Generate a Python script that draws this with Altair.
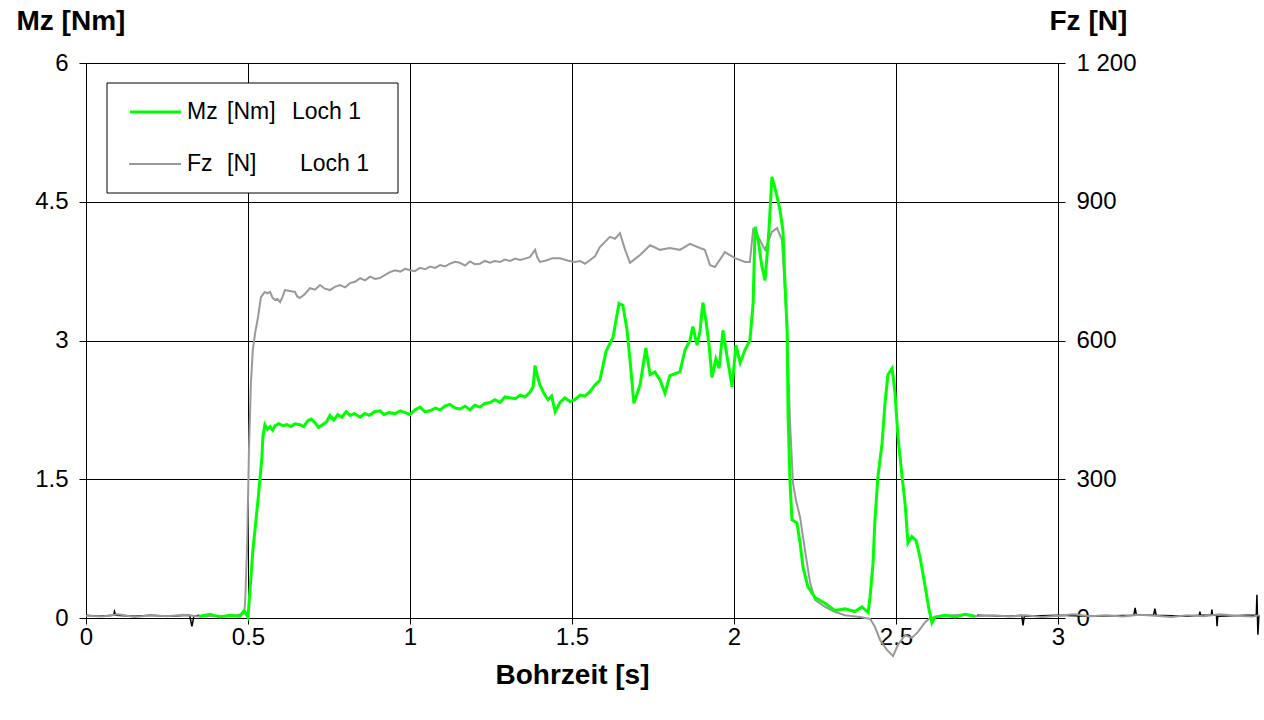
import altair as alt
import pandas as pd

# ---------------- data ----------------
mz_t = [0.352, 0.383, 0.414, 0.444, 0.475, 0.488, 0.500, 0.515, 0.531, 0.543, 0.546,
        0.552, 0.560, 0.568, 0.576, 0.584, 0.595, 0.607, 0.620, 0.633, 0.645, 0.660,
        0.672, 0.684, 0.695, 0.707, 0.718, 0.730, 0.742, 0.753, 0.765, 0.777, 0.790,
        0.803, 0.815, 0.828, 0.846, 0.860, 0.875, 0.890, 0.907, 0.920, 0.935, 0.954,
        0.970, 0.985, 1.000, 1.015, 1.031, 1.046, 1.062, 1.078, 1.093, 1.108, 1.123,
        1.139, 1.154, 1.170, 1.185, 1.200, 1.216, 1.231, 1.247, 1.262, 1.278, 1.293,
        1.309, 1.325, 1.340, 1.355, 1.370, 1.380, 1.386, 1.393, 1.401, 1.413, 1.426,
        1.437, 1.448, 1.463, 1.478, 1.494, 1.509, 1.525, 1.540, 1.556, 1.571, 1.586,
        1.605, 1.627, 1.645, 1.657, 1.670, 1.679,
        1.691, 1.710, 1.728, 1.741, 1.756, 1.772, 1.787, 1.802, 1.833, 1.849, 1.864, 1.873,
        1.886, 1.895, 1.904, 1.914, 1.923, 1.932, 1.944, 1.954, 1.966, 1.978, 1.994, 2.006,
        2.019, 2.034, 2.049, 2.059, 2.065, 2.074, 2.086, 2.096, 2.108, 2.117, 2.130, 2.142,
        2.151, 2.157, 2.164, 2.167, 2.173, 2.179, 2.194, 2.204, 2.213, 2.228, 2.250, 2.281,
        2.312, 2.343, 2.373, 2.395, 2.414, 2.420, 2.429, 2.435, 2.444, 2.457, 2.466, 2.475,
        2.488, 2.497, 2.506, 2.519, 2.528, 2.537, 2.549, 2.562, 2.574, 2.590, 2.602, 2.611,
        2.620, 2.651, 2.682, 2.713, 2.744]
mz_v = [0.02, 0.04, 0.01, 0.03, 0.02, 0.08, 0.01, 0.73, 1.28, 1.74, 1.96,
        2.09, 2.04, 2.07, 2.03, 2.08, 2.10, 2.08, 2.09, 2.07, 2.10, 2.09,
        2.07, 2.13, 2.15, 2.11, 2.06, 2.09, 2.12, 2.19, 2.14, 2.20, 2.17,
        2.23, 2.19, 2.21, 2.17, 2.21, 2.19, 2.23, 2.24, 2.20, 2.22, 2.21,
        2.24, 2.22, 2.20, 2.25, 2.28, 2.23, 2.24, 2.27, 2.25, 2.29, 2.31,
        2.27, 2.26, 2.29, 2.25, 2.30, 2.28, 2.32, 2.33, 2.36, 2.33, 2.39,
        2.38, 2.37, 2.41, 2.39, 2.44, 2.50, 2.73, 2.62, 2.52, 2.43, 2.36,
        2.40, 2.23, 2.33, 2.38, 2.34, 2.36, 2.41, 2.40, 2.45, 2.52, 2.57,
        2.88, 3.04, 3.40, 3.38, 3.11, 2.79,
        2.32, 2.52, 2.92, 2.63, 2.66, 2.57, 2.43, 2.62, 2.66, 2.90, 3.00, 3.15,
        2.95, 3.10, 3.41, 3.20, 2.95, 2.60, 2.80, 2.70, 3.11, 2.84, 2.50, 2.95,
        2.76, 2.90, 3.00, 3.40, 4.23, 4.10, 3.80, 3.65, 4.20, 4.77, 4.60, 4.41,
        4.19, 3.65, 3.11, 2.17, 1.46, 1.06, 1.03, 0.81, 0.55, 0.34, 0.22, 0.16,
        0.08, 0.10, 0.07, 0.12, 0.06, 0.23, 0.59, 1.06, 1.52, 1.89, 2.32, 2.63,
        2.70, 2.43, 1.96, 1.52, 1.24, 0.81, 0.88, 0.84, 0.66, 0.34, 0.09, -0.05,
        0.01, 0.03, 0.01, 0.04, 0.02]

fz_t = [0.000, 0.050, 0.100, 0.150, 0.200, 0.250, 0.300, 0.350, 0.400, 0.450, 0.488,
        0.491, 0.497, 0.503, 0.509, 0.515, 0.522, 0.531, 0.540,
        0.552, 0.560, 0.568, 0.576, 0.583, 0.591, 0.599, 0.607, 0.614, 0.630, 0.645,
        0.652, 0.660, 0.675, 0.691, 0.707, 0.722, 0.737, 0.753, 0.768, 0.784, 0.800,
        0.815, 0.830, 0.846, 0.861, 0.877, 0.892, 0.907, 0.923, 0.938, 0.954, 0.970,
        0.985, 1.000, 1.015, 1.031, 1.046, 1.062, 1.078, 1.093, 1.108, 1.123, 1.139,
        1.154, 1.170, 1.185, 1.200, 1.216, 1.231, 1.247, 1.262, 1.278, 1.293, 1.309,
        1.325, 1.340, 1.355, 1.370, 1.380, 1.386, 1.393, 1.401, 1.420, 1.440, 1.463,
        1.486, 1.509, 1.525, 1.540, 1.556, 1.571,
        1.586, 1.617, 1.633, 1.648, 1.664, 1.679, 1.710,
        1.741, 1.772, 1.802, 1.833, 1.864, 1.895, 1.910, 1.926, 1.941, 1.972, 2.003,
        2.034, 2.049, 2.059, 2.080, 2.096, 2.117, 2.133, 2.148, 2.157, 2.164, 2.173,
        2.182, 2.191, 2.204, 2.219, 2.235, 2.250, 2.281, 2.312, 2.343, 2.389, 2.420,
        2.435, 2.451, 2.472, 2.491, 2.506, 2.528, 2.549, 2.568, 2.590, 2.605,
        2.650, 2.700, 2.750, 2.800, 2.850, 2.900, 2.950, 3.000, 3.050, 3.100, 3.150,
        3.200, 3.250, 3.300, 3.350, 3.400, 3.450, 3.500, 3.550, 3.600, 3.620]
fz_v = [5, 3, 8, 2, 6, 4, 7, 3, 5, 4, 10,
        32, 147, 363, 508, 580, 616, 651, 694,
        705, 702, 705, 692, 688, 690, 683, 695, 709, 707, 705,
        695, 692, 700, 713, 710, 720, 712, 709, 716, 720, 715,
        724, 727, 735, 730, 738, 733, 735, 742, 748, 752, 749,
        755, 752, 750, 757, 754, 760, 757, 763, 760, 766, 770,
        768, 762, 771, 765, 766, 772, 768, 772, 770, 775, 772,
        777, 774, 777, 780, 790, 796, 780, 770, 773, 778, 778,
        773, 770, 772, 766, 774, 782,
        802, 824, 820, 832, 796, 768, 785,
        806, 796, 800, 796, 809, 800, 796, 763, 759, 791, 778,
        770, 770, 839, 817, 796, 835, 843, 817, 709, 616, 422,
        292, 255, 218, 147, 76, 39, 24, 13, 6, 2, -2,
        -19, -48, -69, -82, -58, -37, -43, -30, -9, 0,
        5, 7, 4, 6, 3, 6, 2, 5, 8, 4, 6,
        3, 7, 5, 2, 6, 4, 8, 5, 3, 6]

# a third, unlabelled black trace near zero (Mz units)
bk_seg = ["a"] * 12 + ["b"] * 28
bk_t = [0.000, 0.040, 0.085, 0.088, 0.091, 0.150, 0.200, 0.250, 0.320, 0.327, 0.333, 0.350,
        2.750, 2.850, 2.888, 2.892, 2.896, 3.000, 3.100, 3.234, 3.238, 3.242, 3.295, 3.299,
        3.303, 3.400, 3.436, 3.438, 3.440, 3.473, 3.475, 3.477, 3.489, 3.491, 3.493, 3.580,
        3.612, 3.614, 3.617, 3.620]
bk_v = [0.03, 0.02, 0.03, 0.07, 0.03, 0.02, 0.03, 0.02, 0.03, -0.09, 0.02, 0.03,
        0.03, 0.02, 0.03, -0.08, 0.02, 0.03, 0.02, 0.03, 0.11, 0.03, 0.03, 0.10,
        0.03, 0.02, 0.03, 0.07, 0.03, 0.03, 0.09, 0.03, 0.03, -0.09, 0.02, 0.03,
        0.03, 0.25, -0.18, 0.03]

x_ticks = [0, 0.5, 1, 1.5, 2, 2.5, 3]
mz_ticks = [0, 1.5, 3, 4.5, 6]
fz_ticks = [0, 300, 600, 900, 1200]

mz_df = pd.DataFrame({"t": mz_t, "Mz": mz_v})
fz_df = pd.DataFrame({"t": fz_t, "Fz": fz_v})
bk_df = pd.DataFrame({"t": bk_t, "v": bk_v, "seg": bk_seg})

FONT = "Liberation Sans"
W, H = 972, 555

x_enc = alt.X("t:Q", scale=alt.Scale(domain=[0, 3], nice=False, zero=False),
              axis=alt.Axis(values=x_ticks, labelExpr="toString(datum.value)",
                            title="Bohrzeit [s]", labelFlush=False, labelOverlap=False,
                            grid=True, gridColor="black", gridOpacity=1, gridWidth=1,
                            domainColor="black", tickColor="black", tickSize=6,
                            labelFontSize=24, labelPadding=1, labelColor="black",
                            titleFontSize=28, titleFontWeight="bold", titleColor="black",
                            titlePadding=12, labelFont=FONT, titleFont=FONT))

black = alt.Chart(bk_df).mark_line(color="black", strokeWidth=1.5).encode(
    x=x_enc,
    y=alt.Y("v:Q", scale=alt.Scale(domain=[0, 6], nice=False), axis=None),
    detail="seg:N",
)

grey = alt.Chart(fz_df).mark_line(color="#999999", strokeWidth=2).encode(
    x=x_enc,
    y=alt.Y("Fz:Q", scale=alt.Scale(domain=[0, 1200], nice=False),
            axis=alt.Axis(orient="right", values=fz_ticks, grid=False,
                          labelFlush=False, labelOverlap=False,
                          labelExpr="replace(format(datum.value, ','), ',', ' ')",
                          title="Fz [N]", titleAngle=0, titleX=-9, titleY=-42,
                          titleAlign="left", titleBaseline="middle",
                          domainColor="black", tickColor="black", tickSize=7,
                          labelFontSize=24, labelPadding=11, labelColor="black",
                          titleFontSize=28, titleFontWeight="bold", titleColor="black",
                          labelFont=FONT, titleFont=FONT)),
)

green = alt.Chart(mz_df).mark_line(color="#00FF00", strokeWidth=3).encode(
    x=x_enc,
    y=alt.Y("Mz:Q", scale=alt.Scale(domain=[0, 6], nice=False),
            axis=alt.Axis(orient="left", values=mz_ticks,
                          labelExpr="toString(datum.value)",
                          labelFlush=False, labelOverlap=False,
                          grid=True, gridColor="black", gridOpacity=1, gridWidth=1,
                          title="Mz [Nm]", titleAngle=0, titleX=-70, titleY=-42,
                          titleAlign="left", titleBaseline="middle",
                          domainColor="black", tickColor="black", tickSize=7,
                          labelFontSize=24, labelPadding=11, labelColor="black",
                          titleFontSize=28, titleFontWeight="bold", titleColor="black",
                          labelFont=FONT, titleFont=FONT)),
)

# ---------------- legend box ----------------
one = pd.DataFrame({"a": [0]})
leg_box = alt.Chart(one).mark_rect(fill="white", stroke="black", strokeWidth=1).encode(
    x=alt.value(21), x2=alt.value(312), y=alt.value(20), y2=alt.value(130))
leg_g = alt.Chart(one).mark_rule(color="#00FF00", strokeWidth=3).encode(
    x=alt.value(44), x2=alt.value(95), y=alt.value(49))
leg_f = alt.Chart(one).mark_rule(color="#999999", strokeWidth=2).encode(
    x=alt.value(43), x2=alt.value(95), y=alt.value(101))

leg_txt = pd.DataFrame({
    "txt": ["Mz", "[Nm]", "Loch 1", "Fz", "[N]", "Loch 1"],
    "px": [101, 141, 206, 101, 141, 214],
    "py": [49, 49, 49, 101, 101, 101],
})
leg_text = alt.Chart(leg_txt).mark_text(
    align="left", baseline="middle", fontSize=23, font=FONT, color="black"
).encode(
    x=alt.X("px:Q", scale=None), y=alt.Y("py:Q", scale=None), text="txt:N")

chart = alt.layer(black, grey, green, leg_box, leg_g, leg_f, leg_text).resolve_scale(
    y="independent"
).properties(
    width=W, height=H,
    autosize=alt.AutoSizeParams(type="none"),
    padding={"left": 86, "top": 63, "right": 206, "bottom": 102},
).configure_view(stroke="black", strokeWidth=1).configure(background="white")

chart.save("out.html", embed_options={"renderer": "svg", "actions": False})
